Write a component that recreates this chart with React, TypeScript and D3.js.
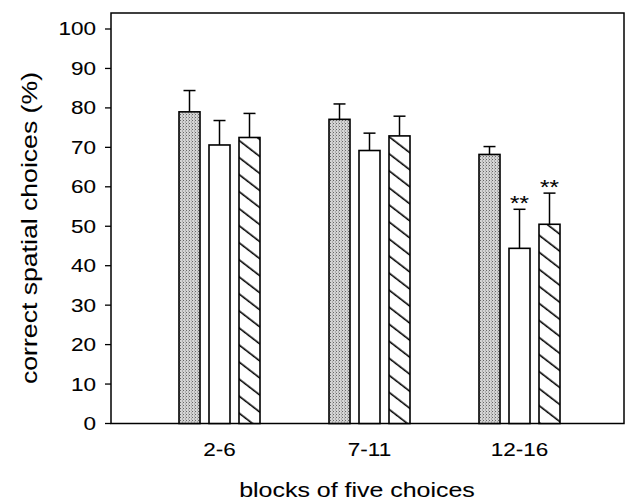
import React from 'react'
import * as d3 from 'd3'

// blocks of trials on the x axis
const categories = ['2-6', '7-11', '12-16']
const series = ['stippled', 'open', 'hatched']

// mean % correct spatial choices per series (one value per block)
const stippledMeans = [79.0, 77.1, 68.2]
const openMeans = [70.6, 69.2, 44.4]
const hatchedMeans = [72.5, 72.9, 50.5]

// upper error bars
const stippledErr = [5.4, 3.9, 2.0]
const openErr = [6.2, 4.4, 9.9]
const hatchedErr = [6.1, 5.0, 7.9]

// significance marks above the error bars
const openSig = ['', '', '**']
const hatchedSig = ['', '', '**']

const yTicks = [0, 10, 20, 30, 40, 50, 60, 70, 80, 90, 100]

const font = 'Arial, "Liberation Sans", Helvetica, sans-serif'
// the original lettering is a bit wider than Arial
const stretch = 1.25

export default function App() {
  const W = 628
  const H = 501
  const frame = { left: 111, right: 624, top: 13, bottom: 423.5 }

  const y = d3.scaleLinear().domain([0, 100]).range([423.5, 29])
  const x = d3.scaleBand().domain(categories).range([144.5, 594.5]).padding(0)
  const groupW = 81
  const sub = d3.scaleBand().domain(series).range([0, groupW]).paddingInner(0.3)

  const means: Record<string, number[]> = { stippled: stippledMeans, open: openMeans, hatched: hatchedMeans }
  const errs: Record<string, number[]> = { stippled: stippledErr, open: openErr, hatched: hatchedErr }
  const sigs: Record<string, string[]> = { stippled: ['', '', ''], open: openSig, hatched: hatchedSig }
  const fills: Record<string, string> = { stippled: 'url(#stipple)', open: '#fff', hatched: 'url(#hatch)' }

  const bars = categories.flatMap((c, i) =>
    series.map(s => {
      const x0 = (x(c) as number) + (x.bandwidth() - groupW) / 2 + (sub(s) as number)
      return { c, s, x0, w: sub.bandwidth(), v: means[s][i], e: errs[s][i], sig: sigs[s][i] }
    })
  )

  const textStyle = { fontFamily: font, stroke: '#000', strokeWidth: 0.08 }

  return (
    <svg width={W} height={H} style={{ position: 'absolute', left: 0, top: 0, background: '#fff' }}>
      <defs>
        <pattern id="stipple" width="3" height="3" patternUnits="userSpaceOnUse">
          <rect width="3" height="3" fill="#d4d4d4" />
          <rect x="0" y="0" width="1" height="1" fill="#666" />
          <rect x="2" y="1.5" width="1" height="1" fill="#8a8a8a" />
        </pattern>
        <pattern id="hatch" width="10" height="13.5" patternUnits="userSpaceOnUse" patternTransform="rotate(37.6)">
          <rect width="10" height="13.5" fill="#fff" />
          <line x1="0" x2="10" y1="6" y2="6" stroke="#000" strokeWidth="1.6" />
        </pattern>
      </defs>

      {/* frame */}
      <rect x={frame.left} y={frame.top} width={frame.right - frame.left} height={frame.bottom - frame.top}
        fill="none" stroke="#000" strokeWidth="1.5" />

      {/* y axis ticks */}
      {yTicks.map(t => (
        <g key={t}>
          <line x1={frame.left - 6} x2={frame.left} y1={y(t)} y2={y(t)} stroke="#000" strokeWidth="1.3" />
          <g transform={`translate(96,${y(t)}) scale(${stretch},1)`}>
            <text dy="0.36em" textAnchor="end" fontSize="18" style={textStyle}>{t}</text>
          </g>
        </g>
      ))}

      {/* bars */}
      {bars.map(b => (
        <g key={b.c + b.s}>
          <line x1={b.x0 + b.w / 2} x2={b.x0 + b.w / 2} y1={y(b.v)} y2={y(b.v + b.e)} stroke="#000" strokeWidth="1.5" />
          <line x1={b.x0 + b.w / 2 - 6} x2={b.x0 + b.w / 2 + 6} y1={y(b.v + b.e)} y2={y(b.v + b.e)} stroke="#000" strokeWidth="1.5" />
          <rect x={b.x0} y={y(b.v)} width={b.w} height={y(0) - y(b.v)} fill={fills[b.s]} stroke="#000" strokeWidth="1.6" />
          {b.sig && (
            <g transform={`translate(${b.x0 + b.w / 2},${y(b.v + b.e) + 1}) scale(1.15,1)`}>
              <text textAnchor="middle" fontSize="21" style={textStyle}>{b.sig}</text>
            </g>
          )}
        </g>
      ))}

      {/* x tick labels */}
      {categories.map(c => (
        <g key={c} transform={`translate(${(x(c) as number) + x.bandwidth() / 2},456) scale(${stretch},1)`}>
          <text textAnchor="middle" fontSize="18" style={textStyle}>{c}</text>
        </g>
      ))}

      <g transform={`translate(357,497) scale(1.28,1)`}>
        <text textAnchor="middle" fontSize="19.5" style={textStyle}>blocks of five choices</text>
      </g>
      <g transform="translate(37,228) rotate(-90) scale(1.21,1)">
        <text textAnchor="middle" fontSize="22" style={textStyle}>correct spatial choices (%)</text>
      </g>
    </svg>
  )
}
